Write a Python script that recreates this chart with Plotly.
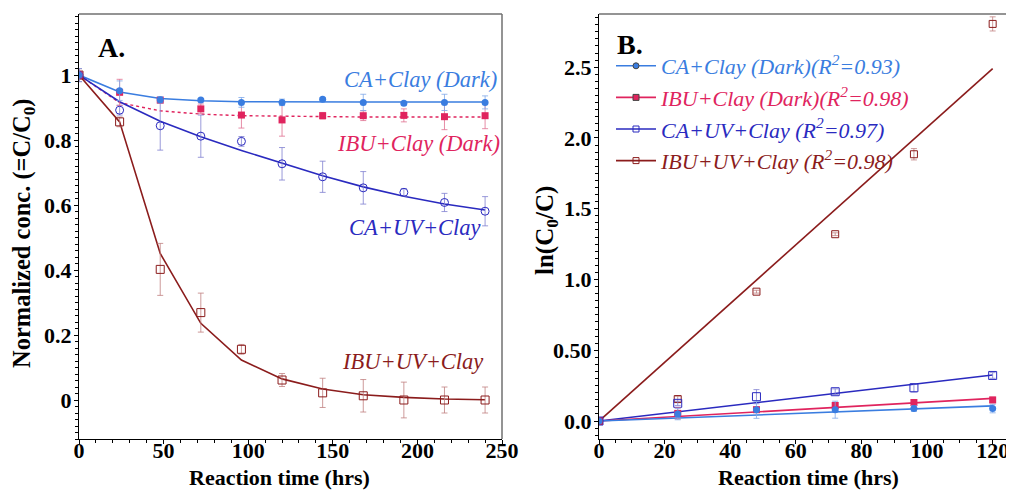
import plotly.graph_objects as go

# ---------------- Panel A data ----------------
time_a = [0, 24, 48, 72, 96, 120, 144, 168, 192, 216, 240]

ca_dark = [1.0, 0.952, 0.924, 0.923, 0.916, 0.916, 0.926, 0.916, 0.913, 0.916, 0.916]
ca_dark_err = [0.02, 0.03, 0.01, 0.005, 0.015, 0.01, 0.005, 0.025, 0.005, 0.025, 0.02]
ca_dark_fit = [1.0, 0.948, 0.928, 0.921, 0.918, 0.917, 0.917, 0.917, 0.917, 0.917, 0.917]

ibu_dark = [1.0, 0.947, 0.923, 0.896, 0.877, 0.862, 0.875, 0.875, 0.876, 0.872, 0.875]
ibu_dark_err = [0.02, 0.04, 0.01, 0.015, 0.04, 0.05, 0.01, 0.015, 0.02, 0.04, 0.04]
ibu_dark_fit = [1.0, 0.915, 0.89, 0.88, 0.875, 0.873, 0.872, 0.871, 0.871, 0.871, 0.871]

ca_uv = [1.0, 0.892, 0.844, 0.812, 0.796, 0.727, 0.687, 0.653, 0.639, 0.608, 0.581]
ca_uv_err = [0.02, 0.015, 0.075, 0.065, 0.015, 0.05, 0.048, 0.05, 0.012, 0.028, 0.045]
ca_uv_fit = [1.0, 0.918, 0.858, 0.81, 0.768, 0.728, 0.69, 0.656, 0.627, 0.603, 0.585]

ibu_uv = [1.0, 0.856, 0.402, 0.269, 0.156, 0.0615, 0.022, 0.013, 0.0, 0.0, 0.0]
ibu_uv_err = [0.02, 0.015, 0.08, 0.06, 0.015, 0.02, 0.045, 0.05, 0.055, 0.04, 0.04]
ibu_uv_fit = [1.0, 0.856, 0.451, 0.236, 0.123, 0.065, 0.034, 0.016, 0.008, 0.003, 0.001]

# ---------------- Panel B data ----------------
time_b = [0, 24, 48, 72, 96, 120]
ln_ca_dark = [0.0, 0.049, 0.079, 0.080, 0.088, 0.088]
ln_ca_dark_err = [0.0, 0.04, 0.06, 0.06, 0.02, 0.03]
ln_ibu_dark = [0.0, 0.054, 0.080, 0.110, 0.131, 0.149]
ln_ibu_dark_err = [0.0, 0.04, 0.02, 0.02, 0.02, 0.02]
ln_ca_uv = [0.0, 0.125, 0.172, 0.207, 0.235, 0.322]
ln_ca_uv_err = [0.0, 0.015, 0.05, 0.02, 0.03, 0.02]
ln_ibu_uv = [0.0, 0.155, 0.914, 1.32, 1.885, 2.806]
ln_ibu_uv_err = [0.0, 0.02, 0.01, 0.01, 0.04, 0.05]

fit_x_b = [0, 120]
fit_ca_dark_b = [0.0, 0.107]
fit_ibu_dark_b = [0.0, 0.16]
fit_ca_uv_b = [0.0, 0.325]
fit_ibu_uv_b = [0.0, 2.49]

legend_names = [
    "CA+Clay (Dark)(R<sup>2</sup>=0.93)",
    "IBU+Clay (Dark)(R<sup>2</sup>=0.98)",
    "CA+UV+Clay (R<sup>2</sup>=0.97)",
    "IBU+UV+Clay (R<sup>2</sup>=0.98)",
]

C_CA_DARK = "#3a7de0"
C_IBU_DARK = "#e0245e"
C_CA_UV = "#2a2abf"
C_IBU_UV = "#8b1c1c"
FONT = "Liberation Serif"

fig = go.Figure()

def err(arr, color):
    return dict(type="data", array=arr, visible=True, color=color, thickness=0.8, width=3)

# Panel A fits
fig.add_trace(go.Scatter(x=time_a, y=ca_dark_fit, mode="lines", line=dict(color=C_CA_DARK, width=1.6),
                         showlegend=False, xaxis="x", yaxis="y"))
fig.add_trace(go.Scatter(x=time_a, y=ibu_dark_fit, mode="lines", line=dict(color=C_IBU_DARK, width=1.4, dash="dot"),
                         showlegend=False, xaxis="x", yaxis="y"))
fig.add_trace(go.Scatter(x=time_a, y=ca_uv_fit, mode="lines", line=dict(color=C_CA_UV, width=1.6),
                         showlegend=False, xaxis="x", yaxis="y"))
fig.add_trace(go.Scatter(x=time_a, y=ibu_uv_fit, mode="lines", line=dict(color=C_IBU_UV, width=1.6),
                         showlegend=False, xaxis="x", yaxis="y"))
# Panel A points
fig.add_trace(go.Scatter(x=time_a, y=ibu_uv, mode="markers", error_y=err(ibu_uv_err, "#c08080"),
                         marker=dict(symbol="square-open", size=8, color=C_IBU_UV, line=dict(width=1)),
                         showlegend=False, xaxis="x", yaxis="y"))
fig.add_trace(go.Scatter(x=time_a, y=ca_uv, mode="markers", error_y=err(ca_uv_err, "#8080d0"),
                         marker=dict(symbol="circle-open", size=8, color=C_CA_UV, line=dict(width=1)),
                         showlegend=False, xaxis="x", yaxis="y"))
fig.add_trace(go.Scatter(x=time_a, y=ibu_dark, mode="markers", error_y=err(ibu_dark_err, "#e07090"),
                         marker=dict(symbol="square", size=7, color=C_IBU_DARK),
                         showlegend=False, xaxis="x", yaxis="y"))
fig.add_trace(go.Scatter(x=time_a, y=ca_dark, mode="markers", error_y=err(ca_dark_err, "#80a8e8"),
                         marker=dict(symbol="circle", size=7, color=C_CA_DARK),
                         showlegend=False, xaxis="x", yaxis="y"))

# Panel B fits
for fy, c in [(fit_ibu_uv_b, C_IBU_UV), (fit_ca_uv_b, C_CA_UV), (fit_ibu_dark_b, C_IBU_DARK), (fit_ca_dark_b, C_CA_DARK)]:
    fig.add_trace(go.Scatter(x=fit_x_b, y=fy, mode="lines", line=dict(color=c, width=1.6),
                             showlegend=False, xaxis="x2", yaxis="y2"))
# Panel B points
fig.add_trace(go.Scatter(x=time_b, y=ln_ibu_uv, mode="markers", error_y=err(ln_ibu_uv_err, "#c08080"),
                         marker=dict(symbol="square-open", size=7, color=C_IBU_UV, line=dict(width=1)),
                         showlegend=False, xaxis="x2", yaxis="y2"))
fig.add_trace(go.Scatter(x=time_b, y=ln_ca_uv, mode="markers", error_y=err(ln_ca_uv_err, "#8080d0"),
                         marker=dict(symbol="square-open", size=8, color=C_CA_UV, line=dict(width=1)),
                         showlegend=False, xaxis="x2", yaxis="y2"))
fig.add_trace(go.Scatter(x=time_b, y=ln_ibu_dark, mode="markers", error_y=err(ln_ibu_dark_err, "#e07090"),
                         marker=dict(symbol="square", size=7, color=C_IBU_DARK),
                         showlegend=False, xaxis="x2", yaxis="y2"))
fig.add_trace(go.Scatter(x=time_b, y=ln_ca_dark, mode="markers", error_y=err(ln_ca_dark_err, "#80a8e8"),
                         marker=dict(symbol="circle", size=7, color=C_CA_DARK),
                         showlegend=False, xaxis="x2", yaxis="y2"))

# Legend entries (panel B)
leg_styles = [
    (C_CA_DARK, "circle", 6),
    (C_IBU_DARK, "square", 6),
    (C_CA_UV, "square-open", 6),
    (C_IBU_UV, "square-open", 6),
]
for name, (c, sym, sz) in zip(legend_names, leg_styles):
    fig.add_trace(go.Scatter(x=[None], y=[None], mode="lines+markers",
                             name=f"<i><span style='color:{c}'>{name}</span></i>",
                             line=dict(color=c, width=1.6),
                             marker=dict(symbol=sym, size=sz, color=c, line=dict(width=1)),
                             xaxis="x2", yaxis="y2"))

# page body has an 8px margin: build a figure that fills the rest of the window
OFF = 8
W, H = 1014 - OFF, 490 - OFF
ML, MR, MT, MB = 79 - OFF, 1, 14 - OFF, H - (439 - OFF)
PW, PH = W - ML - MR, H - MT - MB

def px_x(p):  # reference-screenshot pixel -> paper coordinate
    return (p - OFF - ML) / PW
def px_y(p):
    return (H - MB - (p - OFF)) / PH

tickfont = dict(family=FONT, size=22, color="black", weight="bold")
common = dict(showline=True, linecolor="black", linewidth=1.2, ticks="outside", ticklen=4,
              tickcolor="black", tickfont=tickfont, showgrid=False, zeroline=False,
              mirror=False, automargin=False)

fig.update_layout(
    width=W, height=H,
    margin=dict(l=ML, r=MR, t=MT, b=MB, autoexpand=False),
    paper_bgcolor="white", plot_bgcolor="white",
    font=dict(family=FONT, color="black"),
    xaxis=dict(domain=[px_x(79), px_x(502)], range=[0, 250], anchor="y",
               tickvals=[0, 50, 100, 150, 200, 250], ticklabelstandoff=-13,
               minor=dict(dtick=10, ticks="outside", ticklen=2.5, tickcolor="black"),
               **common),
    yaxis=dict(domain=[0, 1], range=[-0.12, 1.188], anchor="x",
               tickvals=[0, 0.2, 0.4, 0.6, 0.8, 1.0], ticktext=["0", "0.2", "0.4", "0.6", "0.8", "1"],
               ticklabelstandoff=-2,
               minor=dict(tick0=0, dtick=0.02, ticks="outside", ticklen=2.5, tickcolor="black"),
               **common),
    xaxis2=dict(domain=[px_x(599), px_x(1013)], range=[0, 126.2], anchor="y2",
                tickvals=[0, 20, 40, 60, 80, 100, 120], ticklabelstandoff=-13,
                minor=dict(dtick=5, ticks="outside", ticklen=2.5, tickcolor="black"),
                **common),
    yaxis2=dict(domain=[0, 1], range=[-0.127, 2.876], anchor="x2",
                tickvals=[0, 0.5, 1.0, 1.5, 2.0, 2.5], ticktext=["0.0", "0.50", "1.0", "1.5", "2.0", "2.5"],
                ticklabelstandoff=-2,
                minor=dict(tick0=0, dtick=0.05, ticks="outside", ticklen=2.5, tickcolor="black"),
                **common),
    legend=dict(x=px_x(611), y=px_y(45), xanchor="left", yanchor="top",
                bgcolor="rgba(0,0,0,0)", font=dict(family=FONT, size=22),
                tracegroupgap=0, itemwidth=40),
    shapes=[
        dict(type="line", xref="x domain", yref="y domain", x0=0, x1=1, y0=1, y1=1,
             line=dict(color="#707070", width=1.5)),
        dict(type="line", xref="x domain", yref="y domain", x0=1, x1=1, y0=0, y1=1,
             line=dict(color="#707070", width=1.5)),
        dict(type="line", xref="x2 domain", yref="y2 domain", x0=0, x1=1, y0=1, y1=1,
             line=dict(color="#707070", width=1.5)),
    ],
)

ann = []
def add_text(text, x, y, xref, yref, color, size, xanchor="right", textangle=0, italic=True, bold=False):
    t = text
    if italic:
        t = f"<i>{t}</i>"
    if bold:
        t = f"<b>{t}</b>"
    ann.append(dict(text=t, x=x, y=y, xref=xref, yref=yref, xanchor=xanchor, yanchor="middle",
                    showarrow=False, textangle=textangle,
                    font=dict(family=FONT, size=size, color=color)))

add_text("A.", 10.0, 1.086, "x", "y", "black", 28, xanchor="left", italic=False, bold=True)
add_text("CA+Clay (Dark)", 248.5, 0.985, "x", "y", C_CA_DARK, 22.5)
add_text("IBU+Clay (Dark)", 250, 0.79, "x", "y", C_IBU_DARK, 22.5)
add_text("CA+UV+Clay", 239, 0.53, "x", "y", C_CA_UV, 22.5)
add_text("IBU+UV+Clay", 240, 0.117, "x", "y", C_IBU_UV, 22.5)
add_text("B.", 5.0, 2.66, "x2", "y2", "black", 28, xanchor="left", italic=False, bold=True)

add_text("Normalized conc. (=C/C<sub>0</sub>)", px_x(23), px_y(233), "paper", "paper", "black", 24.5,
         xanchor="center", textangle=-90, italic=False, bold=True)
add_text("ln(C<sub>0</sub>/C)", px_x(547), px_y(231), "paper", "paper", "black", 25,
         xanchor="center", textangle=-90, italic=False, bold=True)
add_text("Reaction time (hrs)", px_x(279), px_y(477), "paper", "paper", "black", 22,
         xanchor="center", italic=False, bold=True)
add_text("Reaction time (hrs)", px_x(808), px_y(477), "paper", "paper", "black", 22,
         xanchor="center", italic=False, bold=True)

fig.update_layout(annotations=ann)

fig.write_html("out.html")
